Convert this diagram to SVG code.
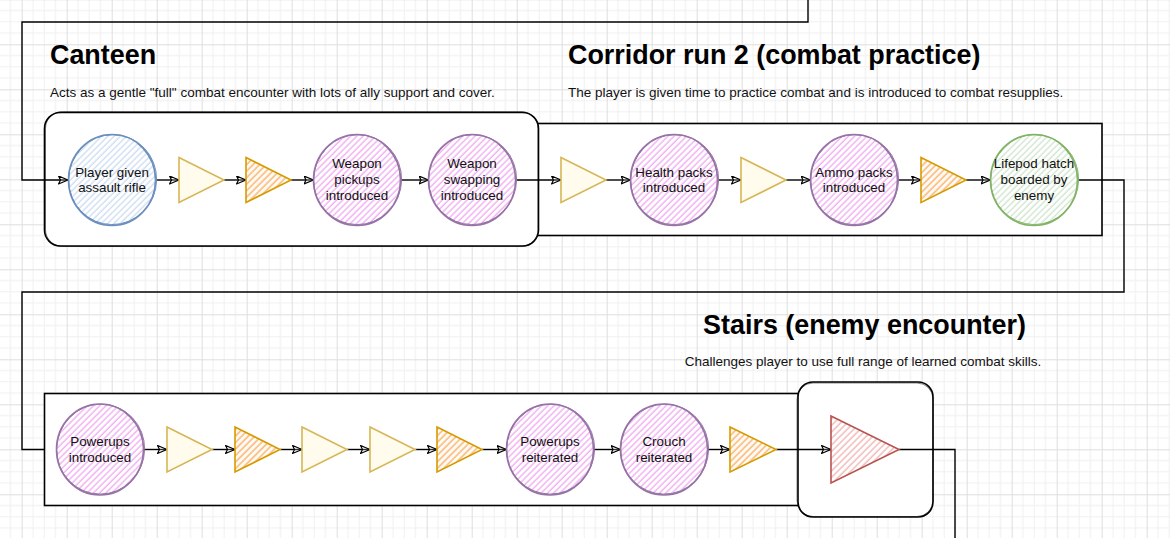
<svg xmlns="http://www.w3.org/2000/svg" width="1170" height="538" viewBox="0 0 1170 538">
<defs>
<pattern id="grid" patternUnits="userSpaceOnUse" x="21.7" y="-0.7" width="45" height="45">
<rect width="45" height="45" fill="#ffffff"/>
<path d="M11.25 0V45M22.5 0V45M33.75 0V45M0 11.25H45M0 22.5H45M0 33.75H45" stroke="#f0f0f0" stroke-width="1" fill="none"/>
<path d="M0.5 0V45M0 0.5H45" stroke="#dedede" stroke-width="1" fill="none"/>
</pattern>
<pattern id="hPurple" patternUnits="userSpaceOnUse" width="4.4" height="10" patternTransform="rotate(45)">
<rect width="4.4" height="10" fill="#ffffff"/>
<line x1="1" y1="0" x2="1" y2="10" stroke="#f0a2f0" stroke-width="1.2"/>
</pattern>
<pattern id="hBlue" patternUnits="userSpaceOnUse" width="4.4" height="10" patternTransform="rotate(45)">
<rect width="4.4" height="10" fill="#ffffff"/>
<line x1="1" y1="0" x2="1" y2="10" stroke="#c3d6ef" stroke-width="1.1"/>
</pattern>
<pattern id="hGreen" patternUnits="userSpaceOnUse" width="4.4" height="10" patternTransform="rotate(45)">
<rect width="4.4" height="10" fill="#ffffff"/>
<line x1="1" y1="0" x2="1" y2="10" stroke="#c6e0c2" stroke-width="1.1"/>
</pattern>
<pattern id="hOrange" patternUnits="userSpaceOnUse" width="4.6" height="10" patternTransform="rotate(45)">
<rect width="4.6" height="10" fill="#fffaf3"/>
<line x1="1" y1="0" x2="1" y2="10" stroke="#f7a85a" stroke-width="1.2"/>
</pattern>
<pattern id="hRed" patternUnits="userSpaceOnUse" width="4.6" height="10" patternTransform="rotate(45)">
<rect width="4.6" height="10" fill="#ffffff"/>
<line x1="1" y1="0" x2="1" y2="10" stroke="#eea4a2" stroke-width="1.1"/>
</pattern>
<marker id="arr" markerUnits="userSpaceOnUse" markerWidth="12" markerHeight="10" refX="10" refY="4.5" orient="auto">
<path d="M0.5,0.5 L10,4.5 L0.5,8.5 L2.5,4.5 Z" fill="#ffffff" fill-opacity="0.2" stroke="#000" stroke-width="1.2" stroke-linejoin="round"/>
</marker>
<style>
.title{font-family:"Liberation Sans",Arial,sans-serif;font-weight:bold;font-size:26.9px;fill:#000}
.sub{font-family:"Liberation Sans",Arial,sans-serif;font-size:13.5px;fill:#111}
.lbl{font-family:"Liberation Sans",Arial,sans-serif;font-size:13.4px;fill:#111;text-anchor:middle}
.box{fill:#ffffff;stroke:#000;stroke-width:1.6}
.box2{fill:none;stroke:#000;stroke-width:0.8;opacity:0.6}
.cP{fill:url(#hPurple);stroke:#9673a6;stroke-width:1.6}
.cB{fill:url(#hBlue);stroke:#6c8ebf;stroke-width:1.6}
.cG{fill:url(#hGreen);stroke:#82b366;stroke-width:1.6}
.c2P{fill:none;stroke:#9673a6;stroke-width:0.9}
.c2B{fill:none;stroke:#6c8ebf;stroke-width:0.9}
.c2G{fill:none;stroke:#82b366;stroke-width:0.9}
.tY{fill:#fffcee;stroke:#d6b656;stroke-width:1.6;stroke-linejoin:miter}
.tO{fill:url(#hOrange);stroke:#d79b00;stroke-width:1.6}
.tR{fill:url(#hRed);stroke:#b85450;stroke-width:1.6}
.edge{fill:none;stroke:#000;stroke-width:1.4}
.arrow{marker-end:url(#arr)}
</style>
</defs>
<rect width="1170" height="538" fill="url(#grid)"/>

<g id="containers">
<g id="corridor-box"><rect class="box" x="530" y="123.5" width="572" height="112"/></g>
<g id="canteen-box"><rect class="box" x="44.5" y="112.5" width="494" height="133.5" rx="16"/><rect class="box2" x="45.5" y="111.5" width="492.5" height="135" rx="17"/></g>
<g id="bottom-box"><rect class="box" x="44.5" y="393.5" width="770" height="112"/></g>
<g id="stairs-box"><rect class="box" x="798" y="382" width="135" height="135" rx="15"/><rect class="box2" x="797" y="383" width="136" height="133.5" rx="16"/></g>
</g>

<g id="titles">
<g id="canteen-title"><text class="title" x="50" y="64">Canteen</text><text class="sub" x="50" y="96.7">Acts as a gentle "full" combat encounter with lots of ally support and cover.</text></g>
<g id="corridor-title"><text class="title" x="568" y="64">Corridor run 2 (combat practice)</text><text class="sub" x="568" y="96.7">The player is given time to practice combat and is introduced to combat resupplies.</text></g>
<g id="stairs-title"><text class="title" x="864.5" y="334" text-anchor="middle">Stairs (enemy encounter)</text><text class="sub" x="863" y="366" text-anchor="middle">Challenges player to use full range of learned combat skills.</text></g>
</g>

<g id="connectors">
<polyline class="edge arrow" points="808,0 808,22 22,22 22,180 68,180"/>
<line class="edge arrow" x1="155.5" y1="180" x2="179" y2="180"/>
<line class="edge arrow" x1="224" y1="180" x2="246" y2="180"/>
<line class="edge arrow" x1="291" y1="180" x2="313.5" y2="180"/>
<line class="edge arrow" x1="400.5" y1="180" x2="428.5" y2="180"/>
<line class="edge arrow" x1="515.5" y1="180" x2="561" y2="180"/>
<line class="edge arrow" x1="606" y1="180" x2="630.5" y2="180"/>
<line class="edge arrow" x1="717.5" y1="180" x2="741" y2="180"/>
<line class="edge arrow" x1="786" y1="180" x2="810.5" y2="180"/>
<line class="edge arrow" x1="897.5" y1="180" x2="921" y2="180"/>
<line class="edge arrow" x1="966" y1="180" x2="990.5" y2="180"/>
<polyline class="edge" points="1077.5,180 1124,180 1124,292 22,292 22,449.5 44,449.5"/>
<line class="edge arrow" x1="143.5" y1="449.5" x2="167" y2="449.5"/>
<line class="edge arrow" x1="212" y1="449.5" x2="235" y2="449.5"/>
<line class="edge arrow" x1="280" y1="449.5" x2="302" y2="449.5"/>
<line class="edge arrow" x1="347" y1="449.5" x2="370" y2="449.5"/>
<line class="edge arrow" x1="415" y1="449.5" x2="437" y2="449.5"/>
<line class="edge arrow" x1="482" y1="449.5" x2="506.5" y2="449.5"/>
<line class="edge arrow" x1="593.5" y1="449.5" x2="620.5" y2="449.5"/>
<line class="edge arrow" x1="707.5" y1="449.5" x2="730" y2="449.5"/>
<line class="edge arrow" x1="776" y1="449.5" x2="831" y2="449.5"/>
<polyline class="edge" points="899,449.5 955,449.5 955,538"/>
</g>

<g id="n-player"><ellipse class="cB" cx="112" cy="180" rx="43.5" ry="45.5"/><ellipse class="c2B" cx="112.5" cy="179.5" rx="44" ry="45" transform="rotate(12 112 180)"/><text class="lbl" x="112" y="176.5">Player given</text><text class="lbl" x="112" y="192.3">assault rifle</text></g>
<g id="n-t1"><polygon class="tY" points="179,157.5 224,180 179,202.5"/></g>
<g id="n-t2"><polygon class="tO" points="246,157.5 291,180 246,202.5"/></g>
<g id="n-pickups"><ellipse class="cP" cx="357" cy="180" rx="43.5" ry="45.5"/><ellipse class="c2P" cx="357.5" cy="179.5" rx="44" ry="45" transform="rotate(12 357 180)"/><text class="lbl" x="357" y="168">Weapon</text><text class="lbl" x="357" y="183.8">pickups</text><text class="lbl" x="357" y="199.6">introduced</text></g>
<g id="n-swapping"><ellipse class="cP" cx="472" cy="180" rx="43.5" ry="45.5"/><ellipse class="c2P" cx="472.5" cy="179.5" rx="44" ry="45" transform="rotate(12 472 180)"/><text class="lbl" x="472" y="168">Weapon</text><text class="lbl" x="472" y="183.8">swapping</text><text class="lbl" x="472" y="199.6">introduced</text></g>
<g id="n-t3"><polygon class="tY" points="561,157.5 606,180 561,202.5"/></g>
<g id="n-health"><ellipse class="cP" cx="674" cy="180" rx="43.5" ry="45.5"/><ellipse class="c2P" cx="674.5" cy="179.5" rx="44" ry="45" transform="rotate(12 674 180)"/><text class="lbl" x="674" y="176.5">Health packs</text><text class="lbl" x="674" y="192.3">introduced</text></g>
<g id="n-t4"><polygon class="tY" points="741,157.5 786,180 741,202.5"/></g>
<g id="n-ammo"><ellipse class="cP" cx="854" cy="180" rx="43.5" ry="45.5"/><ellipse class="c2P" cx="854.5" cy="179.5" rx="44" ry="45" transform="rotate(12 854 180)"/><text class="lbl" x="854" y="176.5">Ammo packs</text><text class="lbl" x="854" y="192.3">introduced</text></g>
<g id="n-t5"><polygon class="tO" points="921,157.5 966,180 921,202.5"/></g>
<g id="n-lifepod"><ellipse class="cG" cx="1034" cy="180" rx="43.5" ry="45.5"/><ellipse class="c2G" cx="1034.5" cy="179.5" rx="44" ry="45" transform="rotate(12 1034 180)"/><text class="lbl" x="1034" y="168">Lifepod hatch</text><text class="lbl" x="1034" y="183.8">boarded by</text><text class="lbl" x="1034" y="199.6">enemy</text></g>

<g id="n-powerups"><ellipse class="cP" cx="100" cy="449.5" rx="43.5" ry="45.5"/><ellipse class="c2P" cx="100.5" cy="449" rx="44" ry="45" transform="rotate(12 100 449.5)"/><text class="lbl" x="100" y="446.2">Powerups</text><text class="lbl" x="100" y="462">introduced</text></g>
<g id="n-t6"><polygon class="tY" points="167,427 212,449.5 167,472"/></g>
<g id="n-t7"><polygon class="tO" points="235,427 280,449.5 235,472"/></g>
<g id="n-t8"><polygon class="tY" points="302,427 347,449.5 302,472"/></g>
<g id="n-t9"><polygon class="tY" points="370,427 415,449.5 370,472"/></g>
<g id="n-t10"><polygon class="tO" points="437,427 482,449.5 437,472"/></g>
<g id="n-powerups2"><ellipse class="cP" cx="550" cy="449.5" rx="43.5" ry="45.5"/><ellipse class="c2P" cx="550.5" cy="449" rx="44" ry="45" transform="rotate(12 550 449.5)"/><text class="lbl" x="550" y="446.2">Powerups</text><text class="lbl" x="550" y="462">reiterated</text></g>
<g id="n-crouch"><ellipse class="cP" cx="664" cy="449.5" rx="43.5" ry="45.5"/><ellipse class="c2P" cx="664.5" cy="449" rx="44" ry="45" transform="rotate(12 664 449.5)"/><text class="lbl" x="664" y="446.2">Crouch</text><text class="lbl" x="664" y="462">reiterated</text></g>
<g id="n-t11"><polygon class="tO" points="730,427 776,449.5 730,472"/></g>
<g id="n-red"><polygon class="tR" points="831,416 899,449.5 831,483"/></g>
</svg>
